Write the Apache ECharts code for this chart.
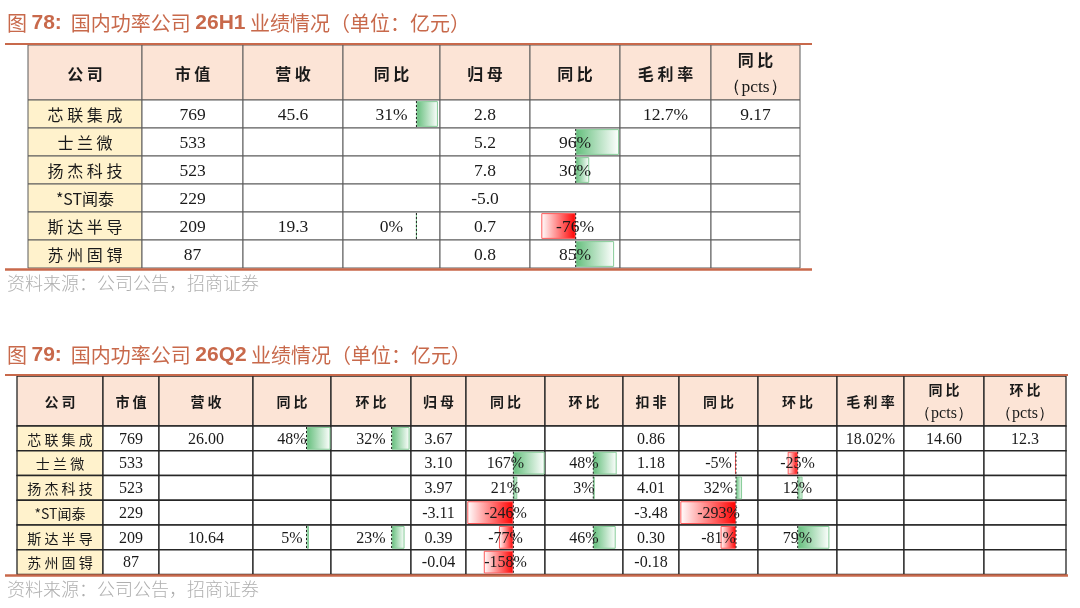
<!DOCTYPE html>
<html>
<head>
<meta charset="utf-8">
<title>国内功率公司业绩情况</title>
<script src="https://cdn.jsdelivr.net/npm/echarts@6/dist/echarts.min.js"></script>
<style>
html, body { margin: 0; padding: 0; background: #fff; }
#main { width: 1080px; height: 608px; }
</style>
</head>
<body>
<div id="main"></div>
<script>
// ---- data ----
var companies = ['芯联集成', '士兰微', '扬杰科技', '*ST闻泰', '斯达半导', '苏州固锝'];
var marketCap = [769, 533, 523, 229, 209, 87];

// 26H1
var h1Header = ['公司', '市值', '营收', '同比', '归母', '同比', '毛利率', '同比\n（pcts）'];
var h1Revenue = [45.6, null, null, null, 19.3, null];
var h1RevenueYoy = [31, null, null, null, 0, null];
var h1NetProfit = [2.8, 5.2, 7.8, -5.0, 0.7, 0.8];
var h1NetProfitYoy = [null, 96, 30, null, -76, 85];
var h1GrossMargin = [12.7, null, null, null, null, null];
var h1GrossMarginYoy = [9.17, null, null, null, null, null];

// 26Q2
var q2Header = ['公司', '市值', '营收', '同比', '环比', '归母', '同比', '环比', '扣非', '同比', '环比', '毛利率', '同比\n（pcts）', '环比\n（pcts）'];
var q2Revenue = [26.00, null, null, null, 10.64, null];
var q2RevenueYoy = [48, null, null, null, 5, null];
var q2RevenueQoq = [32, null, null, null, 23, null];
var q2NetProfit = [3.67, 3.10, 3.97, -3.11, 0.39, -0.04];
var q2NetProfitYoy = [null, 167, 21, -246, -77, -158];
var q2NetProfitQoq = [null, 48, 3, null, 46, null];
var q2Deducted = [0.86, 1.18, 4.01, -3.48, 0.30, -0.18];
var q2DeductedYoy = [null, -5, 32, -293, -81, null];
var q2DeductedQoq = [null, -25, 12, null, 79, null];
var q2GrossMargin = [18.02, null, null, null, null, null];
var q2GrossMarginYoy = [14.60, null, null, null, null, null];
var q2GrossMarginQoq = [12.3, null, null, null, null, null];

var CN = '"Noto Sans CJK SC", sans-serif';
var NUM = '"Liberation Serif", "Times New Roman", serif';
var ORANGE = '#C8694B';

function spaced(s) {
  // loosen CJK glyphs a little, like the letter spacing in the original
  return /^[\u4e00-\u9fff]+$/.test(s) ? s.split('').join(' ') : s;
}

function cellText(col, r) {
  if (col.names) return spaced(col.names[r]);
  var v = col.data[r];
  if (v == null) return '';
  return v.toFixed(col.d) + (col.pct ? '%' : '');
}

function headText(s) {
  var parts = s.split('\n');
  if (parts.length === 1) return spaced(s);
  return '{h|' + spaced(parts[0]) + '}\n{p|' + parts[1] + '}';
}

// ---- layout ----
var t1 = {
  left: 28, top: 45, headH: 55, rowH: 28,
  colW: [114, 101, 100, 97, 90, 90, 91, 89],
  headFont: 16, nameFont: 16, numFont: 17.5, headLine: 27,
  lineColor: '#5a5a5a', lineWidth: 1,
  header: h1Header,
  cols: [
    { names: companies },
    { data: marketCap, d: 0 },
    { data: h1Revenue, d: 1 },
    { data: h1RevenueYoy, d: 0, pct: true, bar: [-106, 34] },
    { data: h1NetProfit, d: 1 },
    { data: h1NetProfitYoy, d: 0, pct: true, bar: [-101, 98] },
    { data: h1GrossMargin, d: 1, pct: true },
    { data: h1GrossMarginYoy, d: 2 }
  ]
};

var t2 = {
  left: 17, top: 376, headH: 50, rowH: 24.75,
  colW: [86, 56, 94, 78, 80, 55, 79, 78, 56, 79, 79, 67, 80, 82],
  headFont: 14, nameFont: 14, numFont: 16, headLine: 24,
  lineColor: '#262626', lineWidth: 1.3,
  header: q2Header,
  cols: [
    { names: companies },
    { data: marketCap, d: 0 },
    { data: q2Revenue, d: 2 },
    { data: q2RevenueYoy, d: 0, pct: true, bar: [-107, 49] },
    { data: q2RevenueQoq, d: 0, pct: true, bar: [-108, 34.5] },
    { data: q2NetProfit, d: 2 },
    { data: q2NetProfitYoy, d: 0, pct: true, bar: [-253, 169] },
    { data: q2NetProfitQoq, d: 0, pct: true, bar: [-99, 61] },
    { data: q2Deducted, d: 2 },
    { data: q2DeductedYoy, d: 0, pct: true, bar: [-300, 116] },
    { data: q2DeductedQoq, d: 0, pct: true, bar: [-99, 98] },
    { data: q2GrossMargin, d: 2, pct: true },
    { data: q2GrossMarginYoy, d: 2 },
    { data: q2GrossMarginQoq, d: 1 }
  ]
};

function barStyle(v) {
  var pos = v >= 0;
  return {
    color: {
      type: 'linear', x: 0, y: 0, x2: 1, y2: 0,
      colorStops: pos
        ? [{ offset: 0, color: '#63BE7B' }, { offset: 1, color: '#FFFFFF' }]
        : [{ offset: 0, color: '#FFFFFF' }, { offset: 1, color: '#FF0000' }]
    },
    borderColor: pos ? '#86CC98' : '#FF5A5A',
    borderWidth: 1
  };
}

var option = { animation: false, grid: [], xAxis: [], yAxis: [], series: [] };

function addTable(t) {
  var edges = [0];
  t.colW.forEach(function (w) { edges.push(edges[edges.length - 1] + w); });
  var W = edges[edges.length - 1];
  var nRows = companies.length;
  var H = t.headH + nRows * t.rowH;
  var gi = option.grid.length;

  option.grid.push({ left: t.left, top: t.top, width: W, height: H });
  option.xAxis.push({ type: 'value', gridIndex: gi, min: 0, max: W, show: false });
  option.yAxis.push({ type: 'value', gridIndex: gi, min: 0, max: H, inverse: true, show: false });

  var cells = [], texts = [];
  t.cols.forEach(function (col, c) {
    cells.push([c, 0]);
    texts.push(headText(t.header[c]));
    for (var r = 0; r < nRows; r++) {
      cells.push([c, r + 1]);
      texts.push(cellText(col, r));
    }
  });

  function box(api) {
    var c = api.value(0), r = api.value(1);
    var y0 = r === 0 ? 0 : t.headH + (r - 1) * t.rowH;
    var y1 = r === 0 ? t.headH : y0 + t.rowH;
    var p0 = api.coord([edges[c], y0]);
    var p1 = api.coord([edges[c + 1], y1]);
    return { x: p0[0], y: p0[1], w: p1[0] - p0[0], h: p1[1] - p0[1], c: c, r: r };
  }

  option.series.push({
    type: 'custom', xAxisIndex: gi, yAxisIndex: gi, z: 1, silent: true,
    data: cells,
    renderItem: function (params, api) {
      var b = box(api);
      var fill = b.r === 0 ? '#FCE4D6' : (b.c === 0 ? '#FFF2CC' : '#FFFFFF');
      return {
        type: 'rect',
        shape: { x: b.x, y: b.y, width: b.w, height: b.h },
        style: { fill: fill, stroke: t.lineColor, lineWidth: t.lineWidth }
      };
    }
  });

  option.series.push({
    type: 'custom', xAxisIndex: gi, yAxisIndex: gi, z: 5, silent: true,
    data: cells,
    renderItem: function (params, api) {
      var b = box(api);
      var txt = texts[params.dataIndex];
      if (!txt) return null;
      var head = b.r === 0, name = b.c === 0;
      return {
        type: 'text',
        x: b.x + b.w / 2,
        y: b.y + b.h / 2 + 1,
        style: {
          text: txt,
          align: 'center',
          verticalAlign: 'middle',
          fill: '#1a1a1a',
          fontFamily: head || name ? CN : NUM,
          fontSize: head ? t.headFont : (name ? t.nameFont : t.numFont),
          fontWeight: head ? 'bold' : 'normal',
          rich: {
            h: { fontFamily: CN, fontSize: t.headFont, fontWeight: 'bold', lineHeight: t.headLine, fill: '#1a1a1a' },
            p: { fontFamily: NUM, fontSize: t.numFont, fontWeight: 'normal', lineHeight: t.headLine, fill: '#1a1a1a' }
          }
        }
      };
    }
  });

  // data bars, one small grid per column with its own value axis
  t.cols.forEach(function (col, c) {
    if (!col.bar) return;
    var bi = option.grid.length;
    option.grid.push({ left: t.left + edges[c], top: t.top + t.headH, width: t.colW[c], height: nRows * t.rowH });
    option.xAxis.push({ type: 'value', gridIndex: bi, min: col.bar[0], max: col.bar[1], show: false });
    option.yAxis.push({ type: 'category', gridIndex: bi, data: companies, inverse: true, show: false });

    option.series.push({
      type: 'bar', xAxisIndex: bi, yAxisIndex: bi, z: 2, silent: true,
      barCategoryGap: '8%',
      data: col.data.map(function (v) {
        return v == null ? '-' : { value: v, itemStyle: barStyle(v) };
      })
    });

    var axisRows = [];
    col.data.forEach(function (v, r) { if (v != null) axisRows.push([0, r]); });
    option.series.push({
      type: 'custom', xAxisIndex: bi, yAxisIndex: bi, z: 3, silent: true,
      data: axisRows,
      renderItem: function (params, api) {
        var p = api.coord([0, api.value(1)]);
        var h = api.size([0, 1])[1];
        return {
          type: 'line',
          shape: { x1: p[0], y1: p[1] - h / 2 + 1, x2: p[0], y2: p[1] + h / 2 - 1 },
          style: { stroke: '#222', lineWidth: 1, lineDash: [2, 2] }
        };
      }
    });
  });
}

addTable(t1);
addTable(t2);

function titleText(y, num, period) {
  return {
    type: 'text', left: 7, top: y, silent: true,
    style: {
      text: '{a|图 }{b|' + num + ':}{a|  国内功率公司 }{b|' + period + '}{a| 业绩情况（单位：亿元）}',
      rich: {
        a: { fontFamily: CN, fontSize: 20, fill: ORANGE, fontWeight: 'normal' },
        b: { fontFamily: '"Liberation Sans", Arial, sans-serif', fontSize: 21, fill: ORANGE, fontWeight: 'bold' }
      }
    }
  };
}

function rule(y, x2, w) {
  return { type: 'line', silent: true, shape: { x1: 5, y1: y, x2: x2, y2: y }, style: { stroke: ORANGE, lineWidth: w }, z: 10 };
}

function source(y) {
  return {
    type: 'text', left: 7, top: y, silent: true,
    style: { text: '资料来源：公司公告，招商证券', fontFamily: CN, fontSize: 18, fontWeight: 300, fill: '#AFAFAF' }
  };
}

option.graphic = [
  titleText(13, '78', '26H1'),
  rule(44, 812, 2),
  rule(269.5, 812, 2.5),
  source(274),
  titleText(345, '79', '26Q2'),
  rule(375, 1068, 2),
  rule(575.5, 1068, 2.5),
  source(580)
];

var chart = echarts.init(document.getElementById('main'));
chart.setOption(option);
</script>
</body>
</html>
